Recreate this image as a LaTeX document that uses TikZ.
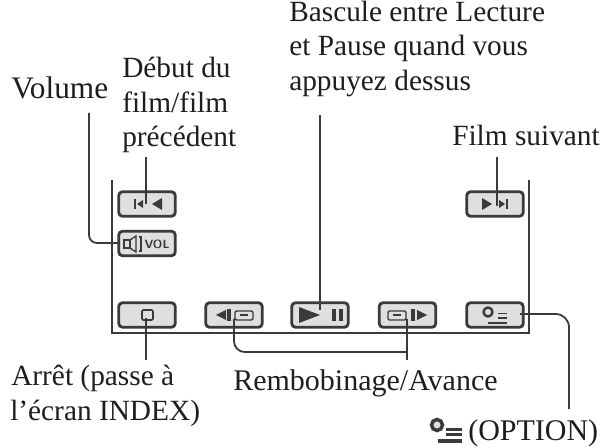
\documentclass[tikz,border=0pt]{standalone}
\usepackage{fontspec}
\setmainfont{Liberation Serif}
\definecolor{ink}{HTML}{3A3A3A}
\definecolor{txt}{HTML}{1E1E1E}
\definecolor{btn}{HTML}{DFDFDF}
\tikzset{
  btnbox/.style={draw=ink,line width=2.1pt,fill=btn,rounded corners=3pt,minimum width=42.5pt,minimum height=18.5pt,inner sep=0pt},
  lab/.style={anchor=base west,inner sep=0pt,text=txt,font=\fontsize{22}{26}\selectfont,align=left},
  lead/.style={draw=ink,line width=1.35pt},
}
\begin{document}
\begin{tikzpicture}[x=0.75pt,y=-0.75pt]
\useasboundingbox (0,0) rectangle (603,448);
% screen frame
\coordinate (fa) at (112,180);\coordinate (fb) at (112,333);\coordinate (fc) at (529,333);\coordinate (fd) at (529,180);
\draw[lead] (fa) -- (fb) -- (fc) -- (fd);
% buttons
\node[btnbox] (prev) at (147,204) {};
\node[btnbox] (vol) at (147,243.5) {};
\node[btnbox] (stop) at (147,315) {};
\node[btnbox] (rew) at (234,315) {};
\node[btnbox] (play) at (320,315) {};
\node[btnbox] (ff) at (407.5,315) {};
\node[btnbox] (opt) at (495,315) {};
\node[btnbox] (next) at (495,204) {};
% labels
\node[lab,font=\fontsize{23.5}{26}\selectfont] (lvol) at (11,99) {Volume};
\node[lab] (lprev1) at (122,78) {Début du};
\node[lab] (lprev2) at (122,113) {film/film};
\node[lab] (lprev3) at (122,147) {précédent};
\node[lab] (lplay1) at (289,22) {Bascule entre Lecture};
\node[lab] (lplay2) at (289,56) {et Pause quand vous};
\node[lab] (lplay3) at (289,91) {appuyez dessus};
\node[lab] (lnext) at (452,146) {Film suivant};
\node[lab] (lstop1) at (11,386) {Arrêt (passe à};
\node[lab] (lstop2) at (10,421) {l'écran INDEX)};
\node[lab,font=\fontsize{22.5}{26}\selectfont] (lrew) at (233,391) {Rembobinage/Avance};
\node[lab,font=\fontsize{22.5}{26}\selectfont] (lopt) at (468,441) {(OPTION)};
% leaders
\coordinate (cvol) at (89,113);
\coordinate (cprev) at (146,157);
\coordinate (cplay) at (320,115);
\coordinate (cnext) at (497,157);
\coordinate (cstop) at (146,360);
\coordinate (copt) at (569,409);
\coordinate (crew) at (234,352);
\coordinate (cff) at (407,352);
\draw[lead,rounded corners=6pt] (cvol) -- (89,243) -- (120,243);
\draw[lead] (cprev) -- (146,204);
\draw[lead] (cplay) -- (320,310);
\draw[lead] (cnext) -- (497,206);
\draw[lead] (146,318) -- (cstop);
\draw[lead,rounded corners=8pt] (234,319) -- (crew) -- (cff);
\draw[lead] (407,319) -- (407,360);
\draw[lead,rounded corners=10pt] (520,314) -- (569,314) -- (copt);
% prev icon
\fill[ink] (134,199) rectangle (136,209);
\fill[ink] (137,204) -- (143,200) -- (143,208) -- cycle;
\fill[ink] (152,204) -- (162,198) -- (162,210) -- cycle;
% next icon
\fill[ink] (482,198) -- (492,204) -- (482,210) -- cycle;
\fill[ink] (499,200) -- (505,204) -- (499,208) -- cycle;
\fill[ink] (506,199) rectangle (508,209);
% vol icon
\draw[ink,line width=1pt] (124,240) rectangle (130,248);
\draw[ink,line width=1pt] (130,240) -- (136,236) -- (136,252) -- (130,248);
\draw[ink,line width=1pt] (139,237) -- (141,237) -- (141,251) -- (139,251);
\node[inner sep=0pt,text=ink,font=\sffamily\bfseries\fontsize{9}{10}\selectfont] (tvol) at (157,244.5) {VOL};
% stop icon
\draw[ink,line width=1.2pt,rounded corners=1pt] (142,310) rectangle (153,320);
% rewind icon
\fill[ink] (216,315) -- (226,310) -- (226,320) -- cycle;
\fill[ink] (227,309) rectangle (231,321);
\draw[ink,line width=1.1pt,rounded corners=1pt] (235,311) rectangle (253,320);
\fill[ink] (240,314.5) rectangle (248,316.5);
% play icon
\fill[ink] (299,307) -- (320,315) -- (299,323) -- cycle;
\fill[ink] (332,309) rectangle (336,321);
\fill[ink] (339,309) rectangle (343,321);
% forward icon
\draw[ink,line width=1.1pt,rounded corners=1pt] (388,311) rectangle (406,320);
\fill[ink] (393,314.5) rectangle (401,316.5);
\fill[ink] (411,309) rectangle (415,321);
\fill[ink] (417,310) -- (427,315) -- (417,320) -- cycle;
% option icon
\draw[ink,line width=1.8pt,fill=btn] (488,312) circle (4.5);
\fill[ink] (488,322) rectangle (507,324.5);
\fill[ink] (498,313) rectangle (507,314.5);
\fill[ink] (498,317.5) rectangle (507,319);
% option legend icon
\draw[ink,line width=2.6pt,fill=btn] (437,425) circle (5.5);
\fill[ink] (438,439) rectangle (462,443);
\fill[ink] (446,428) rectangle (462,431);
\fill[ink] (446,433) rectangle (462,436);
\end{tikzpicture}
\end{document}
